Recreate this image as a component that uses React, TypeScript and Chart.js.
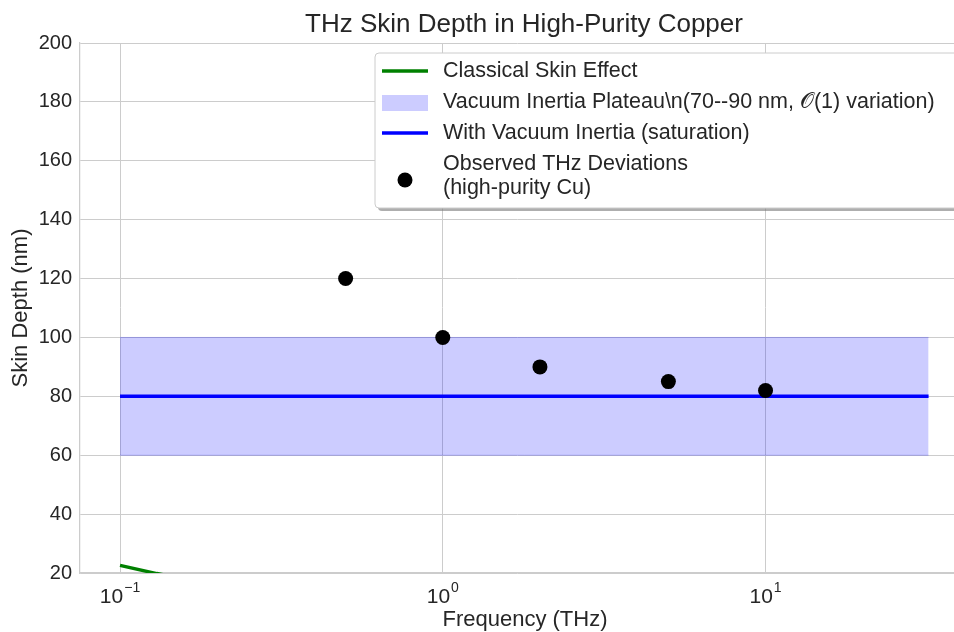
import React, { useEffect, useRef } from 'react';
import { Chart, registerables } from 'chart.js';

Chart.register(...registerables);

const chartTitle = 'THz Skin Depth in High-Purity Copper';
const xTitle = 'Frequency (THz)';
const yTitle = 'Skin Depth (nm)';

const classicalFreq = [0.1, 0.13, 0.2, 0.5, 1, 3, 10, 32];
const classicalDepth = [22.6, 19.8, 16.0, 10.1, 7.1, 4.1, 2.3, 1.3];

const plateauFreq = [0.1, 32];
const plateauUpper = [100, 100];
const plateauLower = [60, 60];
const inertiaDepth = [80, 80];

const observedFreq = [0.5, 1, 2, 5, 10];
const observedDepth = [120, 100, 90, 85, 82];

const xDecades = [0.1, 1, 10];
const xExponents = ['\u22121', '0', '1'];
const xMin = 0.07517;
const xMax = 38.5;
const yMin = 20;
const yMax = 200;
const yStep = 20;

const legendLabels = [
  ['Classical Skin Effect'],
  ['Vacuum Inertia Plateau\\n(70--90 nm, \u{1D4AA}(1) variation)'],
  ['With Vacuum Inertia (saturation)'],
  ['Observed THz Deviations', '(high-purity Cu)'],
];

const GREEN = '#008000';
const BLUE = '#0000ff';
const BAND = 'rgba(0,0,255,0.2)';
const TEXT = '#262626';
const GRID = '#cccccc';
const FONT = '"Liberation Sans", Arial, sans-serif';

const pts = (xs: number[], ys: number[]) => xs.map((x, i) => ({ x, y: ys[i] }));

const decorPlugin = {
  id: 'decor',
  afterDraw(chart: any) {
    const ctx = chart.ctx as CanvasRenderingContext2D;
    const area = chart.chartArea;
    const xs = chart.scales.x;
    ctx.save();
    ctx.fillStyle = TEXT;
    ctx.font = `26px ${FONT}`;
    ctx.textAlign = 'center';
    ctx.textBaseline = 'middle';
    ctx.fillText(chartTitle, 524, 25);
    xDecades.forEach((v, i) => {
      const px = xs.getPixelForValue(v);
      ctx.font = `21px ${FONT}`;
      const wBase = ctx.measureText('10').width;
      ctx.font = `14px ${FONT}`;
      const wExp = ctx.measureText(xExponents[i]).width;
      const total = wBase + 1 + wExp;
      const left = px - total / 2;
      ctx.textAlign = 'left';
      ctx.textBaseline = 'alphabetic';
      ctx.font = `21px ${FONT}`;
      ctx.fillText('10', left, 603);
      ctx.font = `14px ${FONT}`;
      ctx.fillText(xExponents[i], left + wBase + 1, 592);
    });
    ctx.font = `22px ${FONT}`;
    ctx.textAlign = 'center';
    ctx.textBaseline = 'middle';
    ctx.fillText(xTitle, 525, 620);
    ctx.save();
    ctx.translate(21, (area.top + area.bottom) / 2);
    ctx.rotate(-Math.PI / 2);
    ctx.fillText(yTitle, 0, 0);
    ctx.restore();

    const lx = 375, ly = 53, lw = 600, lh = 155, r = 4;
    const rr = (x: number, y: number, w: number, h: number) => {
      ctx.beginPath();
      ctx.moveTo(x + r, y);
      ctx.lineTo(x + w - r, y);
      ctx.arcTo(x + w, y, x + w, y + r, r);
      ctx.lineTo(x + w, y + h - r);
      ctx.arcTo(x + w, y + h, x + w - r, y + h, r);
      ctx.lineTo(x + r, y + h);
      ctx.arcTo(x, y + h, x, y + h - r, r);
      ctx.lineTo(x, y + r);
      ctx.arcTo(x, y, x + r, y, r);
      ctx.closePath();
    };
    ctx.fillStyle = 'rgba(120,120,120,0.6)';
    rr(lx + 3, ly + 3, lw, lh);
    ctx.fill();
    ctx.fillStyle = '#ffffff';
    rr(lx, ly, lw, lh);
    ctx.fill();
    ctx.strokeStyle = '#cccccc';
    ctx.lineWidth = 1;
    ctx.stroke();

    const hx0 = 382, hx1 = 428, tx = 443;
    ctx.lineCap = 'butt';
    ctx.strokeStyle = GREEN;
    ctx.lineWidth = 3.5;
    ctx.beginPath(); ctx.moveTo(hx0, 71); ctx.lineTo(hx1, 71); ctx.stroke();
    ctx.fillStyle = BAND;
    ctx.fillRect(hx0, 95, hx1 - hx0, 16);
    ctx.strokeStyle = BLUE;
    ctx.beginPath(); ctx.moveTo(hx0, 133); ctx.lineTo(hx1, 133); ctx.stroke();
    ctx.fillStyle = '#000000';
    ctx.beginPath(); ctx.arc(405, 180, 7.5, 0, Math.PI * 2); ctx.fill();

    ctx.fillStyle = TEXT;
    ctx.font = `21.5px ${FONT}`;
    ctx.textAlign = 'left';
    ctx.textBaseline = 'middle';
    const rowY = [[71], [102], [133], [164, 188]];
    legendLabels.forEach((lines, i) => {
      lines.forEach((t, j) => ctx.fillText(t, tx, rowY[i][j]));
    });
    ctx.restore();
  },
};

export default function App() {
  const ref = useRef<HTMLCanvasElement>(null);
  useEffect(() => {
    if (!ref.current) return;
    const yTickVals: number[] = [];
    for (let v = yMin; v <= yMax; v += yStep) yTickVals.push(v);
    const chart = new Chart(ref.current, {
      type: 'line',
      data: {
        datasets: [
          {
            label: 'plateau-lower',
            data: pts(plateauFreq, plateauLower),
            borderColor: BAND,
            borderWidth: 1,
            pointRadius: 0,
            fill: false,
            order: 5,
          },
          {
            label: 'plateau-upper',
            data: pts(plateauFreq, plateauUpper),
            borderColor: BAND,
            borderWidth: 1,
            backgroundColor: BAND,
            pointRadius: 0,
            fill: '-1',
            order: 4,
          },
          {
            label: 'Classical Skin Effect',
            data: pts(classicalFreq, classicalDepth),
            borderColor: GREEN,
            borderWidth: 3.5,
            pointRadius: 0,
            fill: false,
            order: 3,
          },
          {
            label: 'With Vacuum Inertia (saturation)',
            data: pts(plateauFreq, inertiaDepth),
            borderColor: BLUE,
            borderWidth: 3.5,
            pointRadius: 0,
            fill: false,
            order: 2,
          },
          {
            label: 'Observed THz Deviations',
            data: pts(observedFreq, observedDepth),
            showLine: false,
            borderColor: '#000000',
            backgroundColor: '#000000',
            pointRadius: 7.5,
            pointBackgroundColor: '#000000',
            pointBorderColor: '#000000',
            pointBorderWidth: 0,
            order: 1,
          },
        ],
      },
      options: {
        animation: false,
        responsive: false,
        devicePixelRatio: 1,
        layout: { padding: { top: 43, left: 0, right: 0, bottom: 0 } },
        plugins: { legend: { display: false }, title: { display: false }, tooltip: { enabled: false } },
        scales: {
          x: {
            type: 'logarithmic',
            min: xMin,
            max: xMax,
            afterBuildTicks: (s: any) => {
              s.ticks = xDecades.map((v) => ({ value: v }));
            },
            afterFit: (s: any) => {
              s.height = 59;
            },
            ticks: { display: false },
            grid: { color: GRID, lineWidth: 1, drawTicks: false },
            border: { color: GRID, width: 1.25 },
          },
          y: {
            type: 'linear',
            min: yMin,
            max: yMax,
            afterBuildTicks: (s: any) => {
              s.ticks = yTickVals.map((v) => ({ value: v }));
            },
            afterFit: (s: any) => {
              s.width = 80;
            },
            ticks: { color: TEXT, font: { size: 20, family: FONT }, padding: 8 },
            grid: { color: GRID, lineWidth: 1, drawTicks: false },
            border: { color: GRID, width: 1.25 },
          },
        },
      },
      plugins: [decorPlugin],
    });
    return () => chart.destroy();
  }, []);
  return (
    <div style={{ position: 'absolute', left: 0, top: 0, width: 954, height: 632, background: '#fff', overflow: 'hidden' }}>
      <canvas ref={ref} width={962} height={632} style={{ width: 962, height: 632 }} />
    </div>
  );
}
